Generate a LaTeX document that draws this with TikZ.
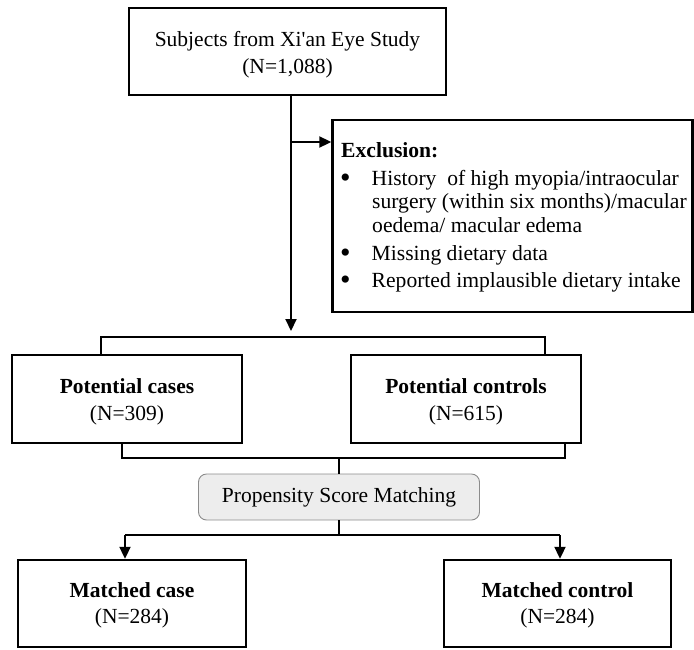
\documentclass[tikz,border=0pt]{standalone}
\usepackage{fontspec}
\setmainfont{Liberation Serif}[Ligatures=TeXOff]
\usetikzlibrary{arrows.meta}
\newcommand{\bigbul}{\makebox[30.5pt][l]{\hspace{-1pt}\raisebox{-2pt}[0pt][0pt]{\fontsize{30}{22}\selectfont\textbullet}}}
\begin{document}
\begin{tikzpicture}[x=1pt,y=-1pt,
  box/.style={draw=black, line width=2.4pt, inner sep=0pt},
  boxtext/.style={inner sep=0pt, align=center, font=\fontsize{21.5}{26.5}\selectfont},
  psm/.style={draw=black!45, fill=black!7, line width=0.9pt, rounded corners=8pt,
    inner sep=0pt, font=\fontsize{21.5}{27}\selectfont},
  conn/.style={line width=2pt},
  arr/.style={line width=2pt, -{Triangle[length=12pt,width=11pt]}},
  exline/.style={anchor=base west, inner sep=0pt, font=\fontsize{21.6}{22}\selectfont}
]
\useasboundingbox (0,0) rectangle (694,649);

% top box
\node[box, minimum width=317pt, minimum height=87pt] (top) at (287.5,51.5) {};
\node[boxtext] (topt) at ([yshift=-3pt]top.center)
  {Subjects from Xi'an Eye Study\\(N=1,088)};

% exclusion box
\node[box, minimum width=360pt, minimum height=192pt] (exc) at (512.5,216) {};
\node[exline] (e1) at (341,157) {\textbf{Exclusion:}};
\node[exline] (b1) at (341,185) {\bigbul History\ \ of high myopia/intraocular};
\node[exline] (e2) at (372,208.5) {surgery (within six months)/macular};
\node[exline] (e3) at (372,232) {oedema/ macular edema};
\node[exline] (b2) at (341,260) {\bigbul Missing dietary data};
\node[exline] (b3) at (341,287) {\bigbul Reported implausible dietary intake};

% potential boxes
\node[box, minimum width=230pt, minimum height=88pt] (pca) at (127,399) {};
\node[boxtext] (pcat) at ([yshift=-3pt]pca.center) {\textbf{Potential cases}\\(N=309)};
\node[box, minimum width=230pt, minimum height=88pt] (pco) at (466,399) {};
\node[boxtext] (pcot) at ([yshift=-3pt]pco.center) {\textbf{Potential controls}\\(N=615)};

% PSM
\node[psm, minimum width=281pt, minimum height=46pt] (psm) at (339,497)
  {Propensity Score Matching};

% matched boxes
\node[box, minimum width=228pt, minimum height=87pt] (mca) at (132,603.5) {};
\node[boxtext] (mcat) at ([yshift=-2pt]mca.center) {\textbf{Matched case}\\(N=284)};
\node[box, minimum width=227pt, minimum height=87pt] (mco) at (557.5,603.5) {};
\node[boxtext] (mcot) at ([yshift=-2pt]mco.center) {\textbf{Matched control}\\(N=284)};

% coordinates
\coordinate (tipA) at (291,331);
\coordinate (brL) at (101,337);
\coordinate (brR) at (545,337);
\coordinate (lbL) at (122,458);
\coordinate (lbR) at (565,458);
\coordinate (lbC) at (339,458);
\coordinate (brC) at (339,535);
\coordinate (mL) at (125,535);
\coordinate (mR) at (560,535);
\coordinate (exA) at (291,142);

% connectors
\draw[arr] (top.south -| tipA) -- (tipA);
\draw[arr] (exA) -- (exc.west |- exA);
\draw[conn] (brL |- pca.north) -- (brL) -- (brR) -- (brR |- pco.north);
\draw[conn] (lbL |- pca.south) -- (lbL) -- (lbR) -- (lbR |- pco.south);
\draw[conn] (lbC) -- (psm.north);
\draw[conn] (psm.south) -- (brC);
\draw[conn] (mL) -- (mR);
\draw[arr] (mL) -- (mL |- mca.north);
\draw[arr] (mR) -- (mR |- mco.north);
\end{tikzpicture}
\end{document}
